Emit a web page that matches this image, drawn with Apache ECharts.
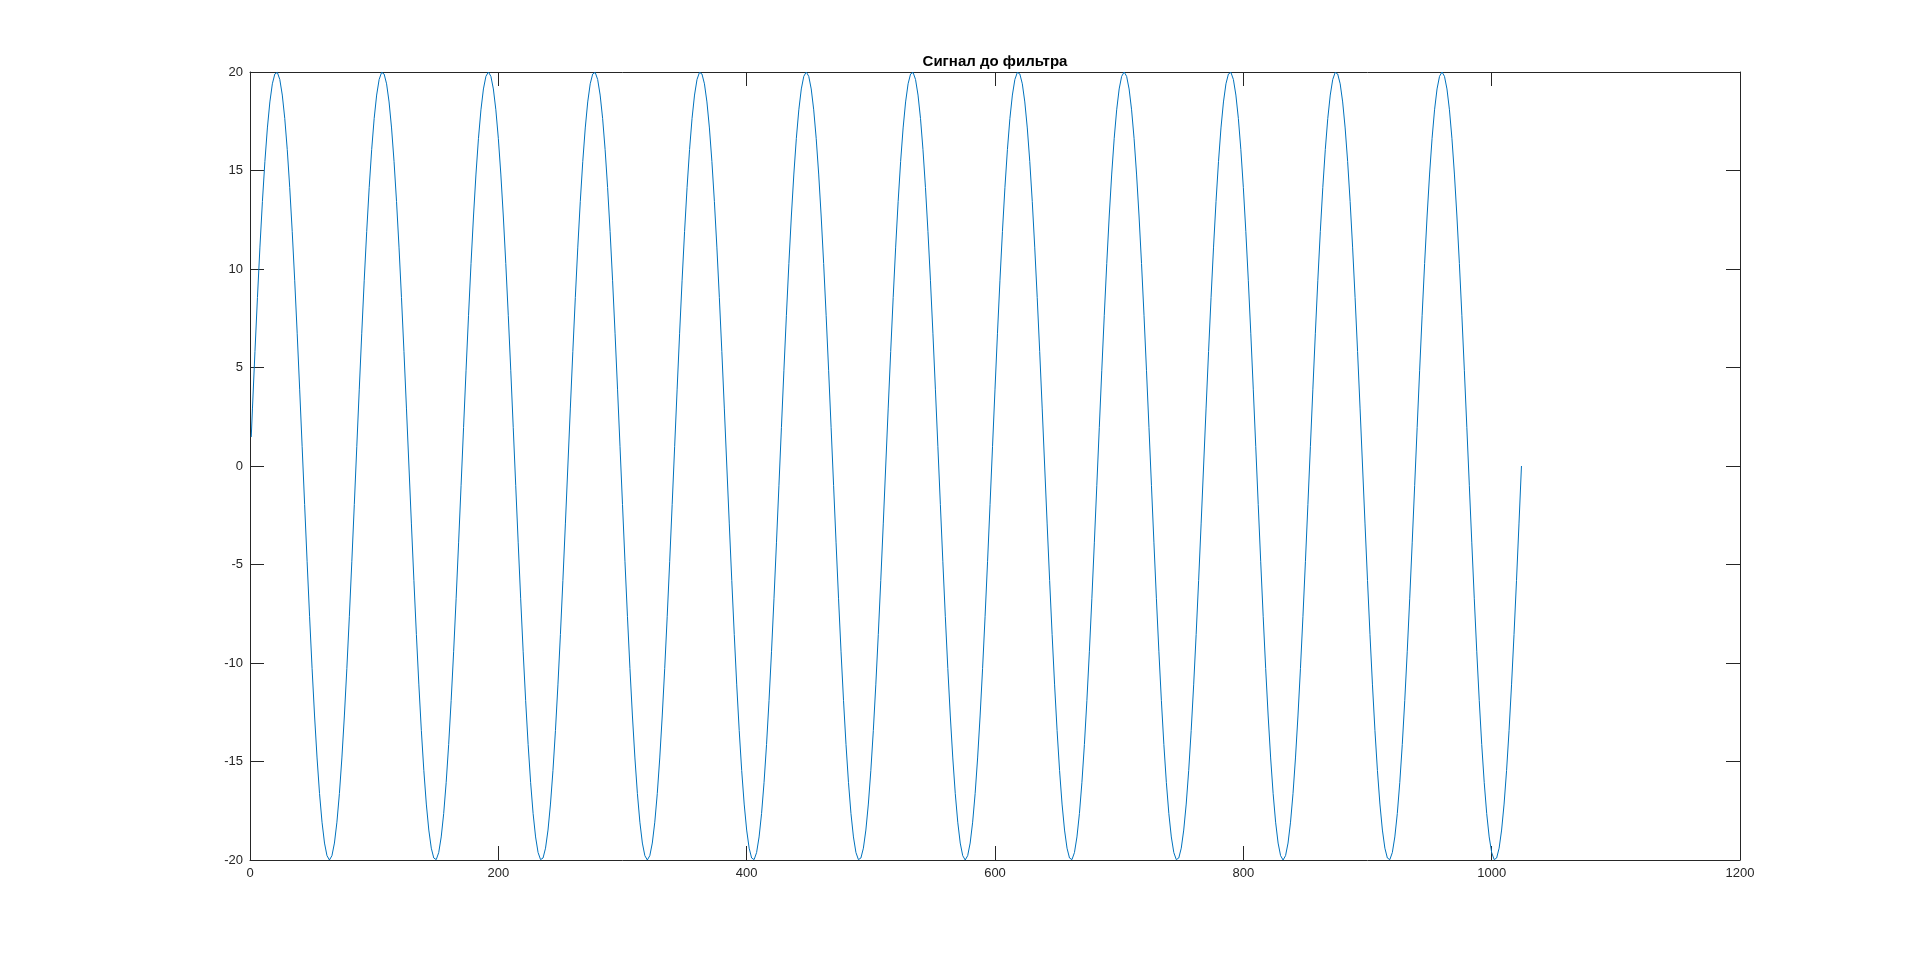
<!DOCTYPE html>
<html>
<head>
<meta charset="utf-8">
<script src="https://cdn.jsdelivr.net/npm/echarts@6/dist/echarts.min.js"></script>
<style>
html,body{margin:0;padding:0;background:#fff;}
#chart{width:1923px;height:966px;}
</style>
</head>
<body>
<div id="chart"></div>
<script>
const titleText = 'Сигнал до фильтра';
const xTicks = [0, 200, 400, 600, 800, 1000, 1200];
const yTicks = [-20, -15, -10, -5, 0, 5, 10, 15, 20];

const sampleX = [1,
2,4,6,8,10,12,14,16,18,20,22,24,26,28,30,32,
34,36,38,40,42,44,46,48,50,52,54,56,58,60,62,64,
66,68,70,72,74,76,78,80,82,84,86,88,90,92,94,96,
98,100,102,104,106,108,110,112,114,116,118,120,122,124,126,128,
130,132,134,136,138,140,142,144,146,148,150,152,154,156,158,160,
162,164,166,168,170,172,174,176,178,180,182,184,186,188,190,192,
194,196,198,200,202,204,206,208,210,212,214,216,218,220,222,224,
226,228,230,232,234,236,238,240,242,244,246,248,250,252,254,256,
258,260,262,264,266,268,270,272,274,276,278,280,282,284,286,288,
290,292,294,296,298,300,302,304,306,308,310,312,314,316,318,320,
322,324,326,328,330,332,334,336,338,340,342,344,346,348,350,352,
354,356,358,360,362,364,366,368,370,372,374,376,378,380,382,384,
386,388,390,392,394,396,398,400,402,404,406,408,410,412,414,416,
418,420,422,424,426,428,430,432,434,436,438,440,442,444,446,448,
450,452,454,456,458,460,462,464,466,468,470,472,474,476,478,480,
482,484,486,488,490,492,494,496,498,500,502,504,506,508,510,512,
514,516,518,520,522,524,526,528,530,532,534,536,538,540,542,544,
546,548,550,552,554,556,558,560,562,564,566,568,570,572,574,576,
578,580,582,584,586,588,590,592,594,596,598,600,602,604,606,608,
610,612,614,616,618,620,622,624,626,628,630,632,634,636,638,640,
642,644,646,648,650,652,654,656,658,660,662,664,666,668,670,672,
674,676,678,680,682,684,686,688,690,692,694,696,698,700,702,704,
706,708,710,712,714,716,718,720,722,724,726,728,730,732,734,736,
738,740,742,744,746,748,750,752,754,756,758,760,762,764,766,768,
770,772,774,776,778,780,782,784,786,788,790,792,794,796,798,800,
802,804,806,808,810,812,814,816,818,820,822,824,826,828,830,832,
834,836,838,840,842,844,846,848,850,852,854,856,858,860,862,864,
866,868,870,872,874,876,878,880,882,884,886,888,890,892,894,896,
898,900,902,904,906,908,910,912,914,916,918,920,922,924,926,928,
930,932,934,936,938,940,942,944,946,948,950,952,954,956,958,960,
962,964,966,968,970,972,974,976,978,980,982,984,986,988,990,992,
994,996,998,1000,1002,1004,1006,1008,1010,1012,1014,1016,1018,1020,1022,1024];

const sampleY = [1.47,
2.94,5.81,8.55,11.11,13.43,15.46,17.16,18.48,19.40,19.90,19.98,19.62,18.83,17.64,16.06,14.14,11.91,9.43,6.74,3.90,0.98,-1.96,-4.86,-7.65,-10.28,-12.69,-14.82,-16.63,-18.08,-19.14,-19.78,-20,-19.78,-19.14,-18.08,-16.63,-14.82,-12.69,-10.28,-7.65,-4.86,-1.96,0.98,3.90,6.74,9.43,11.91,14.14,16.06,17.64,18.83,19.62,19.98,19.90,19.40,18.48,17.16,15.46,13.43,11.11,8.55,5.81,2.94,0,-2.94,-5.81,-8.55,-11.11,-13.43,-15.46,-17.16,-18.48,-19.40,-19.90,-19.98,-19.62,-18.83,-17.64,-16.06,-14.14,-11.91,-9.43,-6.74,-3.90,-0.98,1.96,4.86,7.65,10.28,12.69,14.82,16.63,18.08,19.14,19.78,20,19.78,19.14,18.08,16.63,14.82,12.69,10.28,7.65,4.86,1.96,-0.98,-3.90,-6.74,-9.43,-11.91,-14.14,-16.06,-17.64,-18.83,-19.62,-19.98,-19.90,-19.40,-18.48,-17.16,-15.46,-13.43,-11.11,-8.55,-5.81,-2.94,0,
2.94,5.81,8.55,11.11,13.43,15.46,17.16,18.48,19.40,19.90,19.98,19.62,18.83,17.64,16.06,14.14,11.91,9.43,6.74,3.90,0.98,-1.96,-4.86,-7.65,-10.28,-12.69,-14.82,-16.63,-18.08,-19.14,-19.78,-20,-19.78,-19.14,-18.08,-16.63,-14.82,-12.69,-10.28,-7.65,-4.86,-1.96,0.98,3.90,6.74,9.43,11.91,14.14,16.06,17.64,18.83,19.62,19.98,19.90,19.40,18.48,17.16,15.46,13.43,11.11,8.55,5.81,2.94,0,-2.94,-5.81,-8.55,-11.11,-13.43,-15.46,-17.16,-18.48,-19.40,-19.90,-19.98,-19.62,-18.83,-17.64,-16.06,-14.14,-11.91,-9.43,-6.74,-3.90,-0.98,1.96,4.86,7.65,10.28,12.69,14.82,16.63,18.08,19.14,19.78,20,19.78,19.14,18.08,16.63,14.82,12.69,10.28,7.65,4.86,1.96,-0.98,-3.90,-6.74,-9.43,-11.91,-14.14,-16.06,-17.64,-18.83,-19.62,-19.98,-19.90,-19.40,-18.48,-17.16,-15.46,-13.43,-11.11,-8.55,-5.81,-2.94,0,
2.94,5.81,8.55,11.11,13.43,15.46,17.16,18.48,19.40,19.90,19.98,19.62,18.83,17.64,16.06,14.14,11.91,9.43,6.74,3.90,0.98,-1.96,-4.86,-7.65,-10.28,-12.69,-14.82,-16.63,-18.08,-19.14,-19.78,-20,-19.78,-19.14,-18.08,-16.63,-14.82,-12.69,-10.28,-7.65,-4.86,-1.96,0.98,3.90,6.74,9.43,11.91,14.14,16.06,17.64,18.83,19.62,19.98,19.90,19.40,18.48,17.16,15.46,13.43,11.11,8.55,5.81,2.94,0,-2.94,-5.81,-8.55,-11.11,-13.43,-15.46,-17.16,-18.48,-19.40,-19.90,-19.98,-19.62,-18.83,-17.64,-16.06,-14.14,-11.91,-9.43,-6.74,-3.90,-0.98,1.96,4.86,7.65,10.28,12.69,14.82,16.63,18.08,19.14,19.78,20,19.78,19.14,18.08,16.63,14.82,12.69,10.28,7.65,4.86,1.96,-0.98,-3.90,-6.74,-9.43,-11.91,-14.14,-16.06,-17.64,-18.83,-19.62,-19.98,-19.90,-19.40,-18.48,-17.16,-15.46,-13.43,-11.11,-8.55,-5.81,-2.94,0,
2.94,5.81,8.55,11.11,13.43,15.46,17.16,18.48,19.40,19.90,19.98,19.62,18.83,17.64,16.06,14.14,11.91,9.43,6.74,3.90,0.98,-1.96,-4.86,-7.65,-10.28,-12.69,-14.82,-16.63,-18.08,-19.14,-19.78,-20,-19.78,-19.14,-18.08,-16.63,-14.82,-12.69,-10.28,-7.65,-4.86,-1.96,0.98,3.90,6.74,9.43,11.91,14.14,16.06,17.64,18.83,19.62,19.98,19.90,19.40,18.48,17.16,15.46,13.43,11.11,8.55,5.81,2.94,0,-2.94,-5.81,-8.55,-11.11,-13.43,-15.46,-17.16,-18.48,-19.40,-19.90,-19.98,-19.62,-18.83,-17.64,-16.06,-14.14,-11.91,-9.43,-6.74,-3.90,-0.98,1.96,4.86,7.65,10.28,12.69,14.82,16.63,18.08,19.14,19.78,20,19.78,19.14,18.08,16.63,14.82,12.69,10.28,7.65,4.86,1.96,-0.98,-3.90,-6.74,-9.43,-11.91,-14.14,-16.06,-17.64,-18.83,-19.62,-19.98,-19.90,-19.40,-18.48,-17.16,-15.46,-13.43,-11.11,-8.55,-5.81,-2.94,0];

const points = sampleX.map((x, i) => [x, sampleY[i]]);

const axisColor = '#262626';
const fontFam = '"Liberation Sans", Arial, Helvetica, sans-serif';

const chart = echarts.init(document.getElementById('chart'), null, {renderer: 'canvas'});

function xAxisCfg(pos, showLabel) {
  return {
    type: 'value', position: pos, min: xTicks[0], max: xTicks[xTicks.length - 1],
    interval: xTicks[1] - xTicks[0],
    axisLine: {show: true, onZero: false, lineStyle: {color: axisColor, width: 1}},
    axisTick: {show: true, inside: true, length: 14, lineStyle: {color: axisColor, width: 1}},
    axisLabel: {show: showLabel, color: axisColor, fontSize: 13, fontFamily: fontFam, margin: 7,
      formatter: v => String(v)},
    splitLine: {show: false}
  };
}
function yAxisCfg(pos, showLabel) {
  return {
    type: 'value', position: pos, min: yTicks[0], max: yTicks[yTicks.length - 1],
    interval: yTicks[1] - yTicks[0],
    axisLine: {show: true, onZero: false, lineStyle: {color: axisColor, width: 1}},
    axisTick: {show: true, inside: true, length: 14, lineStyle: {color: axisColor, width: 1}},
    axisLabel: {show: showLabel, color: axisColor, fontSize: 13, fontFamily: fontFam, margin: 7,
      formatter: v => String(v)},
    splitLine: {show: false}
  };
}

chart.setOption({
  backgroundColor: '#ffffff',
  animation: false,
  title: {
    text: titleText,
    left: 995, top: 54, padding: 0, textAlign: 'center',
    textStyle: {fontSize: 15, fontWeight: 'bold', color: '#000', fontFamily: fontFam}
  },
  grid: {left: 250, top: 72, width: 1490, height: 788, containLabel: false},
  xAxis: [xAxisCfg('bottom', true), xAxisCfg('top', false)],
  yAxis: [yAxisCfg('left', true), yAxisCfg('right', false)],
  series: [{
    type: 'line',
    data: points,
    xAxisIndex: 0, yAxisIndex: 0,
    showSymbol: false,
    lineStyle: {color: '#0072BD', width: 1},
    clip: true
  }]
});
</script>
</body>
</html>
